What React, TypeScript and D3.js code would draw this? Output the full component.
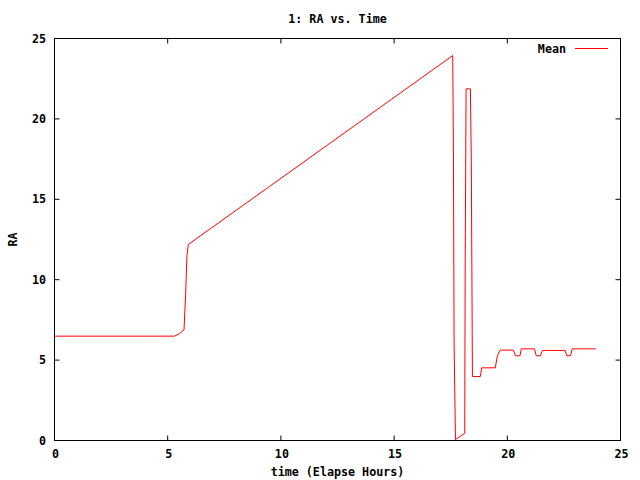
import React from "react";
import * as d3 from "d3";

const title = "1: RA vs. Time";
const xLabel = "time (Elapse Hours)";
const yLabel = "RA";
const seriesName = "Mean";
const xTicks = [0, 5, 10, 15, 20, 25];
const yTicks = [0, 5, 10, 15, 20, 25];

const timeHours = [
  0, 5.3, 5.52, 5.72, 5.79, 5.85, 5.91, 17.59, 17.62, 17.65, 17.71, 18.12, 18.14,
  18.18, 18.37, 18.41, 18.46, 18.81, 18.87, 19.47, 19.56, 19.69, 20.27, 20.36, 20.56,
  20.62, 21.2, 21.28, 21.46, 21.55, 22.55, 22.63, 22.79, 22.87, 23.91,
];
const raMean = [
  6.49, 6.49, 6.65, 6.88, 9.0, 11.5, 12.19, 23.94, 18.0, 6.05, 0.06, 0.45, 11.13,
  21.87, 21.87, 17.4, 3.98, 3.98, 4.52, 4.52, 5.27, 5.62, 5.62, 5.27, 5.27, 5.7,
  5.7, 5.27, 5.27, 5.6, 5.6, 5.27, 5.27, 5.7, 5.7,
];

const W = 640;
const H = 480;
const left = 54.5;
const right = 620.5;
const top = 38.5;
const bottom = 440.5;
const FONT = "'DejaVu Sans Mono', monospace";

export default function App() {
  const x = d3.scaleLinear().domain([0, 25]).range([left, right]);
  const y = d3.scaleLinear().domain([0, 25]).range([bottom, top]);
  const pts: [number, number][] = timeHours.map((t, i) => [t, raMean[i]]);
  const line = d3
    .line<[number, number]>()
    .x((d) => x(d[0]))
    .y((d) => y(d[1]));
  const tickLen = 5;
  return (
    <svg
      width={W}
      height={H}
      style={{ position: "absolute", left: 0, top: 0, background: "#fff" }}
      fontFamily={FONT}
      fontSize={11.7}
      fontWeight="bold"
    >
      <rect x={0} y={0} width={W} height={H} fill="#fff" />
      <text x={(left + right) / 2} y={23} textAnchor="middle">
        {title}
      </text>
      {xTicks.map((t) => (
        <g key={"x" + t}>
          <line x1={x(t)} x2={x(t)} y1={bottom} y2={bottom - tickLen} stroke="#000" />
          <line x1={x(t)} x2={x(t)} y1={top} y2={top + tickLen} stroke="#000" />
          <text x={x(t) + 1} y={458} textAnchor="middle">
            {t}
          </text>
        </g>
      ))}
      {yTicks.map((t) => (
        <g key={"y" + t}>
          <line x1={left} x2={left + tickLen} y1={y(t)} y2={y(t)} stroke="#000" />
          <line x1={right} x2={right - tickLen} y1={y(t)} y2={y(t)} stroke="#000" />
          <text x={46} y={y(t) + 4} textAnchor="end">
            {t}
          </text>
        </g>
      ))}
      <rect
        x={left}
        y={top}
        width={right - left}
        height={bottom - top}
        fill="none"
        stroke="#000"
      />
      <path d={line(pts) || ""} fill="none" stroke="#ff0000" strokeWidth={1} />
      <text x={(left + right) / 2} y={476} textAnchor="middle">
        {xLabel}
      </text>
      <text
        transform={`translate(17,${(top + bottom) / 2}) rotate(-90)`}
        textAnchor="middle"
      >
        {yLabel}
      </text>
      <text x={566} y={53} textAnchor="end">
        {seriesName}
      </text>
      <line x1={575} x2={608} y1={48.5} y2={48.5} stroke="#ff0000" />
    </svg>
  );
}
